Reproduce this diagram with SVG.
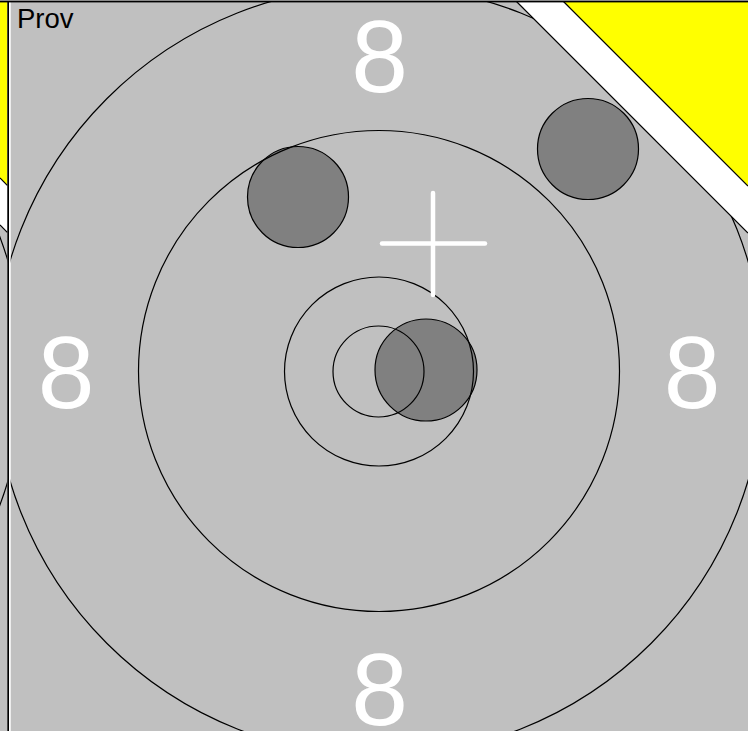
<svg xmlns="http://www.w3.org/2000/svg" width="748" height="731" viewBox="0 0 748 731">
  <style>
    .ring { fill: none; stroke: #000; stroke-width: 1.2; }
    .shot { fill: #808080; stroke: #000; stroke-width: 1.2; }
    .num { fill: #fff; font-family: "Liberation Sans", Arial, sans-serif; font-size: 102px; text-anchor: middle; }
    .edge { stroke: #000; stroke-width: 1.2; fill: none; }
    .cross { stroke: #fff; stroke-width: 4.5; stroke-linecap: round; fill: none; }
  </style>
  <defs>
    <clipPath id="mainClip">
      <polygon points="10.7,0 515,0 748,233 748,731 10.7,731"/>
    </clipPath>
    <clipPath id="stripClip">
      <polygon points="0,225 7.3,232.3 7.3,731 0,731"/>
    </clipPath>
  </defs>

  <g id="left-strip">
    <rect x="0" y="0" width="7.3" height="731" fill="#c0c0c0"/>
    <polygon points="0,0 7.3,0 7.3,232.3 0,225" fill="#fff"/>
    <polygon points="0,0 7.3,0 7.3,185.3 0,178" fill="#ffff00"/>
    <line class="edge" x1="0" y1="178" x2="7.3" y2="185.3"/>
    <line class="edge" x1="0" y1="225" x2="7.3" y2="232.3"/>
    <circle class="ring" cx="-361" cy="371" r="385" clip-path="url(#stripClip)"/>
  </g>

  <g id="divider">
    <rect x="7.3" y="0" width="1.8" height="731" fill="#000"/>
    <rect x="9.1" y="0" width="1.6" height="731" fill="#fff"/>
  </g>

  <g id="target-card">
    <rect x="10.7" y="0" width="737.3" height="731" fill="#c0c0c0"/>
    <polygon points="515,0 748,0 748,233" fill="#fff"/>
    <polygon points="562,0 748,0 748,186" fill="#ffff00"/>
    <line class="edge" x1="515" y1="0" x2="748" y2="233"/>
    <line class="edge" x1="562" y1="0" x2="748" y2="186"/>
  </g>

  <g id="shot-1"><circle class="shot" cx="298" cy="197" r="50.5"/></g>
  <g id="shot-2"><circle class="shot" cx="588" cy="149" r="50.5"/></g>
  <g id="shot-3"><circle class="shot" cx="426" cy="370" r="51"/></g>

  <g id="rings">
    <circle class="ring" cx="379" cy="371" r="385" clip-path="url(#mainClip)"/>
    <circle class="ring" cx="379" cy="371" r="240.5"/>
    <circle class="ring" cx="379" cy="371.5" r="94.5"/>
    <circle class="ring" cx="378.5" cy="371.5" r="45.5"/>
  </g>

  <g id="aim-cross">
    <line class="cross" x1="433" y1="193" x2="433" y2="295"/>
    <line class="cross" x1="382" y1="243.5" x2="485" y2="243.5"/>
  </g>

  <g id="numbers">
    <text class="num" x="379.5" y="92">8</text>
    <text class="num" x="66" y="408">8</text>
    <text class="num" x="692" y="408">8</text>
    <text class="num" x="379.5" y="725">8</text>
  </g>

  <g id="label">
    <text x="17" y="27.5" font-family="Liberation Sans, Arial, sans-serif" font-size="27.5" fill="#000">Prov</text>
  </g>

  <g id="top-border">
    <rect x="0" y="0" width="748" height="1" fill="#8a8a8a"/>
    <rect x="0" y="1" width="748" height="1.4" fill="#000"/>
  </g>
</svg>
